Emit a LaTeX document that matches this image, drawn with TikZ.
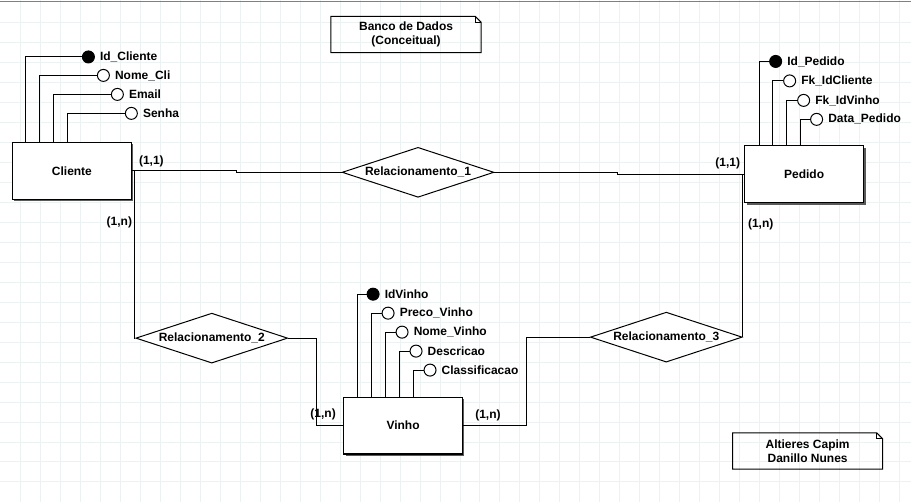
\documentclass[tikz,border=0pt]{standalone}
\usepackage{fontspec}
\setmainfont{Liberation Sans}
\usetikzlibrary{shapes.geometric,shadows,calc}
\definecolor{gridc}{RGB}{236,241,241}
\definecolor{shadowc}{RGB}{90,90,90}
\begin{document}
\begin{tikzpicture}[x=1pt,y=-1pt,
 txt/.style={font=\fontsize{12}{14}\selectfont\bfseries, inner sep=0pt},
 entity/.style={txt, draw, line width=1.1pt, fill=white, minimum width=119pt, minimum height=57pt,
   drop shadow={shadow xshift=2pt, shadow yshift=-2pt, fill=shadowc, opacity=1}},
 rel/.style={txt, draw, diamond, aspect=3, line width=1pt, fill=white, minimum width=152pt, minimum height=50pt},
 keyatt/.style={circle, draw, fill=black, line width=1pt, minimum size=12pt, inner sep=0pt},
 att/.style={circle, draw, fill=white, line width=1pt, minimum size=12pt, inner sep=0pt},
 attlbl/.style={txt, anchor=west, xshift=5pt},
 conn/.style={line width=1pt},
 card/.style={txt},
 note/.style={txt, align=center, minimum width=150pt, minimum height=36pt},
 notebox/.style={line width=1pt},
 fold/.style={line width=0.8pt},
]
% background
\fill[white] (0,0) rectangle (911,502);
\foreach \x in {20,40,...,900} \draw[gridc, line width=1pt] (\x,0) -- (\x,502);
\foreach \y in {22,42,...,482} \draw[gridc, line width=1pt] (0,\y) -- (911,\y);
\draw[gray, line width=1pt] (0,1.5) -- (911,1.5);
\useasboundingbox (0,0) rectangle (911,502);

% junction coordinates
\coordinate (j1) at (236,0);
\coordinate (j2) at (316,0);
\coordinate (j3) at (527,0);
\coordinate (j4) at (618,0);

% entities
\node[entity] (Cli) at (71.5,170.5) {Cliente};
\node[entity] (Ped) at (804.5,174) {Pedido};
\node[entity] (Vin) at (403,425.5) {Vinho};

% relationships
\node[rel] (R1) at (418,172) {Relacionamento\_1};
\node[rel] (R2) at (211.5,338) {Relacionamento\_2};
\node[rel] (R3) at (666.5,337) {Relacionamento\_3};

% connectors
\draw[conn] (Cli.east) -- (Cli.east -| j1) |- (R1.west);
\draw[conn] (R1.east) -- (R1.east -| j4) |- (Ped.west);
\draw[conn] ([xshift=2.5pt]Cli.east) |- (R2.west);
\draw[conn] (R2.east) -- (R2.east -| j2) |- (Vin.west);
\draw[conn] (Vin.east) -- (Vin.east -| j3) |- (R3.west);
\draw[conn] (R3.east) |- (Ped.west);

% Cliente attributes
\node[keyatt] (c1) at (88,56.5) {};
\node[att] (c2) at (103,75) {};
\node[att] (c3) at (117,94) {};
\node[att] (c4) at (131,113) {};
\node[attlbl] (c1l) at (c1.east) {Id\_Cliente};
\node[attlbl] (c2l) at (c2.east) {Nome\_Cli};
\node[attlbl] (c3l) at (c3.east) {Email};
\node[attlbl] (c4l) at (c4.east) {Senha};
\draw[conn] ($(Cli.north west)+(14,0)$) |- (c1.west);
\draw[conn] ($(Cli.north west)+(28,0)$) |- (c2.west);
\draw[conn] ($(Cli.north west)+(42,0)$) |- (c3.west);
\draw[conn] ($(Cli.north west)+(56,0)$) |- (c4.west);

% Pedido attributes
\node[keyatt] (p1) at (776,61) {};
\node[att] (p2) at (790,80.5) {};
\node[att] (p3) at (804,100) {};
\node[att] (p4) at (817,119) {};
\node[attlbl] (p1l) at (p1.east) {Id\_Pedido};
\node[attlbl] (p2l) at (p2.east) {Fk\_IdCliente};
\node[attlbl] (p3l) at (p3.east) {Fk\_IdVinho};
\node[attlbl] (p4l) at (p4.east) {Data\_Pedido};
\draw[conn] ($(Ped.north west)+(15,0)$) |- (p1.west);
\draw[conn] ($(Ped.north west)+(28,0)$) |- (p2.west);
\draw[conn] ($(Ped.north west)+(42,0)$) |- (p3.west);
\draw[conn] ($(Ped.north west)+(56,0)$) |- (p4.west);

% Vinho attributes
\node[keyatt] (v1) at (373,294) {};
\node[att] (v2) at (388,313) {};
\node[att] (v3) at (402,332) {};
\node[att] (v4) at (416,351) {};
\node[att] (v5) at (430,370) {};
\node[attlbl] (v1l) at (v1.east) {IdVinho};
\node[attlbl] (v2l) at (v2.east) {Preco\_Vinho};
\node[attlbl] (v3l) at (v3.east) {Nome\_Vinho};
\node[attlbl] (v4l) at (v4.east) {Descricao};
\node[attlbl] (v5l) at (v5.east) {Classificacao};
\draw[conn] ($(Vin.north west)+(14,0)$) |- (v1.west);
\draw[conn] ($(Vin.north west)+(28,0)$) |- (v2.west);
\draw[conn] ($(Vin.north west)+(42,0)$) |- (v3.west);
\draw[conn] ($(Vin.north west)+(56,0)$) |- (v4.west);
\draw[conn] ($(Vin.north west)+(70,0)$) |- (v5.west);

% cardinalities
\node[card] (k1) at (151,161) {(1,1)};
\node[card] (k2) at (119,222) {(1,n)};
\node[card] (k3) at (728,163) {(1,1)};
\node[card] (k4) at (761,224) {(1,n)};
\node[card] (k5) at (323,414) {(1,n)};
\node[card] (k6) at (488,415) {(1,n)};

% notes
\node[note] (n1) at (406,34) {Banco de Dados\\(Conceitual)};
\draw[notebox] (n1.north west) -- ($(n1.north east)+(-6,0)$) -- ($(n1.north east)+(0,6)$) -- (n1.south east) -- (n1.south west) -- cycle;
\draw[fold] ($(n1.north east)+(-6,0)$) -- ($(n1.north east)+(-6,6)$) -- ($(n1.north east)+(0,6)$);
\node[note] (n2) at (808,451) {Altieres Capim\\Danillo Nunes};
\draw[notebox] (n2.north west) -- ($(n2.north east)+(-6,0)$) -- ($(n2.north east)+(0,6)$) -- (n2.south east) -- (n2.south west) -- cycle;
\draw[fold] ($(n2.north east)+(-6,0)$) -- ($(n2.north east)+(-6,6)$) -- ($(n2.north east)+(0,6)$);
\end{tikzpicture}
\end{document}
